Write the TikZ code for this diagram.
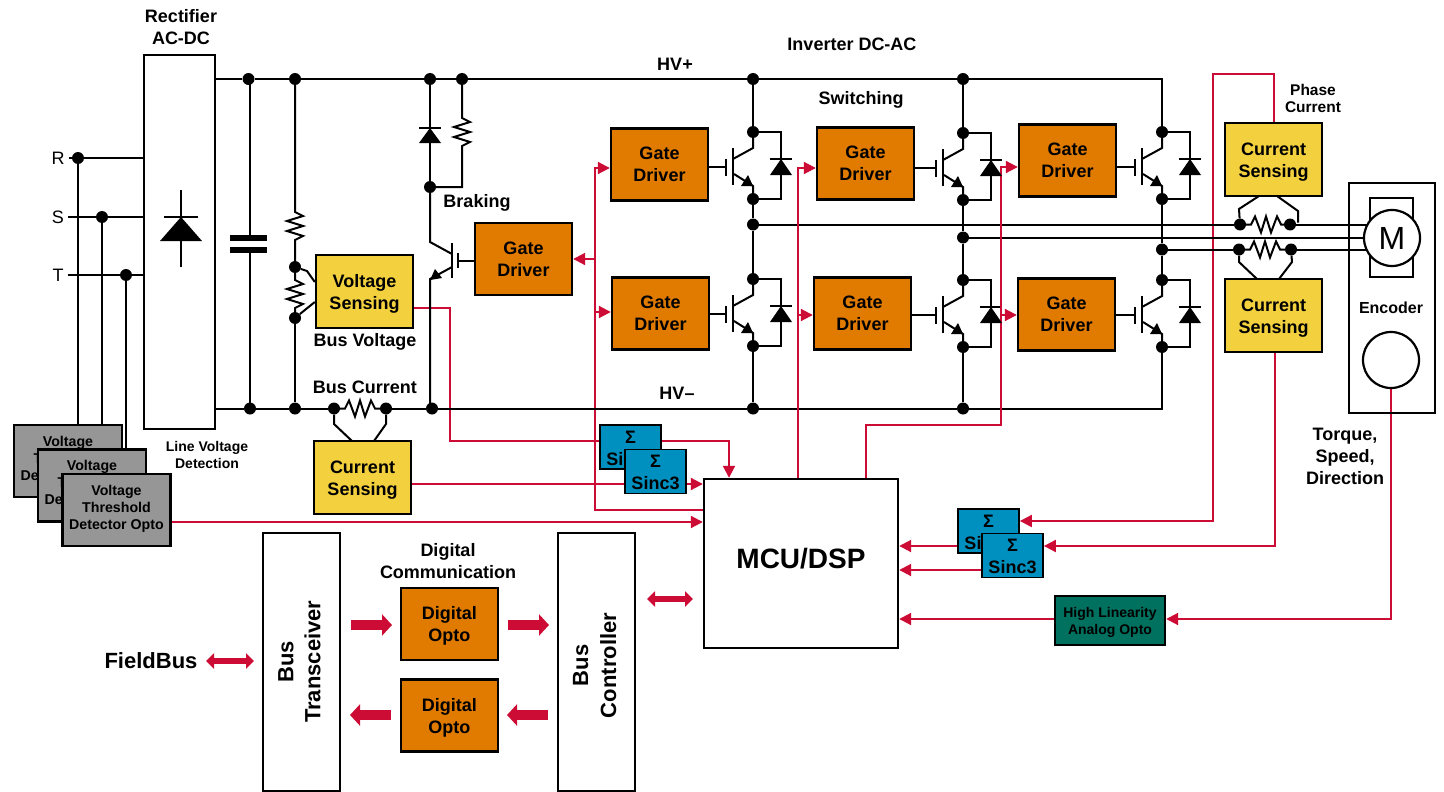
\documentclass[tikz,border=0pt]{standalone}
\usepackage{fontspec}
\setmainfont{Liberation Sans}
\usetikzlibrary{arrows.meta,calc}
\pgfdeclarelayer{paper}\pgfdeclarelayer{redl}\pgfdeclarelayer{blk}\pgfdeclarelayer{redtop}
\pgfsetlayers{paper,redl,blk,redtop,main}
\definecolor{cOrange}{HTML}{E07B00}
\definecolor{cYellow}{HTML}{F3D03E}
\definecolor{cBlue}{HTML}{0090BF}
\definecolor{cTeal}{HTML}{00705F}
\definecolor{cGray}{HTML}{969696}
\definecolor{cRed}{HTML}{CC0C35}
\newcommand{\fsz}[2]{\fontsize{#1}{#2}\selectfont\bfseries}
\newcommand{\tu}{\rule{0pt}{17pt}}
\newcommand{\sg}{\rule{0pt}{15pt}Σ}
\tikzset{
  x=1pt,y=-1pt,
  boxb/.style={draw=black,line width=2.4pt,inner sep=0pt,align=center,font=\fsz{18}{22}},
  gd/.style={boxb,fill=cOrange,minimum width=97pt,minimum height=72pt},
  sense/.style={boxb,fill=cYellow,minimum width=97pt,minimum height=73pt},
  sincb/.style={boxb,fill=cBlue,line width=1.8pt,minimum width=61pt,minimum height=44pt},
  thresh/.style={boxb,fill=cGray,minimum width=108pt,minimum height=72pt,font=\fsz{14.2}{17}},
  whitebox/.style={boxb,fill=white},
  lbl/.style={inner sep=0pt,align=center,font=\fsz{18}{22}},
  dot/.style={circle,fill=black,inner sep=0pt,minimum size=12pt},
  wire/.style={line width=2pt,draw=black},
  redw/.style={line width=2pt,draw=cRed},
  reda/.style={redw,-{Triangle[length=12pt,width=12pt]}},
  fat/.style={line width=10.5pt,draw=cRed,-{Triangle[length=10pt,width=21pt]}},
  fatd/.style={line width=6.5pt,draw=cRed,{Triangle[length=8pt,width=15pt]}-{Triangle[length=8pt,width=15pt]}},
}
\def\hzig{-- ++(4,-8) -- ++(6,16) -- ++(5,-16) -- ++(5,16) -- ++(6,-16) -- ++(4,8)}
\def\vzig{-- ++(8,4) -- ++(-16,5) -- ++(16,5) -- ++(-16,5) -- ++(16,5) -- ++(-8,4)}
\newcommand{\igbt}[3]{%
  \node[dot] (#1-t) at (#2,#3) {};
  \node[dot] (#1-b) at (#2,#3+67) {};
  \coordinate (#1-g) at (#2-27,#3+35);
  \coordinate (#1-d) at (#2+28,#3);
  \coordinate (#1-e) at (#2+28,#3+67);
  \begin{pgfonlayer}{blk}
  \draw[wire] (#1-t) -- ++(0,16) -- ++(-20,11);
  \draw[wire] (#1-b) -- ++(0,-13) -- ++(-19,-12);
  \draw[wire] (#2-20,#3+16) -- (#2-20,#3+53);
  \draw[wire] (#2-27,#3+27) -- (#2-27,#3+44);
  \draw[wire] (#1-t) -- (#1-d) -- (#1-e) -- (#1-b);
  \draw[wire] (#2+17,#3+27) -- (#2+39,#3+27);
  \end{pgfonlayer}
  \fill (#2-12,#3+54) -- (#2,#3+54) -- (#2-5,#3+43) -- cycle;
  \fill (#2+28,#3+27) -- (#2+17,#3+43) -- (#2+39,#3+43) -- cycle;
}
\begin{document}
\begin{tikzpicture}
\begin{pgfonlayer}{paper}
\fill[white] (0,0) rectangle (1444,792);
\end{pgfonlayer}
\useasboundingbox (0,0) rectangle (1444,792);

% ---- boxes
\node[whitebox,minimum width=71pt,minimum height=374pt] (rect) at (179.5,242) {};
\node[gd] (gdb) at (523.5,259) {Gate\\Driver};
\node[gd] (gd1) at (659.5,164.5) {Gate\\Driver};
\node[gd] (gd2) at (660.5,313.5) {Gate\\Driver};
\node[gd] (gd3) at (865.5,163.5) {Gate\\Driver};
\node[gd] (gd4) at (862.5,313.5) {Gate\\Driver};
\node[gd] (gd5) at (1067.5,160.5) {Gate\\Driver};
\node[gd] (gd6) at (1066.5,314.5) {Gate\\Driver};
\node[sense] (vs) at (364.5,291.5) {\tu Voltage\\Sensing};
\node[sense] (csb) at (362.5,477.5) {\tu Current\\Sensing};
\node[sense] (cst) at (1273.5,159.5) {\tu Current\\Sensing};
\node[sense] (csl) at (1273.5,315.5) {\tu Current\\Sensing};
\node[thresh] (v1) at (68,461) {Voltage\\Threshold\\Detector Opto\rule[-6pt]{0pt}{6pt}};
\node[thresh] (v2) at (92,485.5) {Voltage\\Threshold\\Detector Opto\rule[-6pt]{0pt}{6pt}};
\node[thresh] (v3) at (116.5,510) {Voltage\\Threshold\\Detector Opto\rule[-6pt]{0pt}{6pt}};
\node[sincb] (sa) at (630.5,447) {\sg\\Sinc3};
\node[sincb] (sb) at (655.5,471.5) {\sg\\Sinc3};
\node[sincb] (sc) at (988.5,531) {\sg\\Sinc3};
\node[sincb] (sd) at (1012.5,555.5) {\sg\\Sinc3};
\node[boxb,fill=cTeal,minimum width=110pt,minimum height=49pt,font=\fsz{14}{17}] (hl) at (1110,620.5) {\rule{0pt}{14pt}High Linearity\\Analog Opto};
\node[whitebox,minimum width=194pt,minimum height=169pt,font=\fsz{28}{32}] (mcu) at (801,563.5) {MCU/DSP\rule[-10pt]{0pt}{10pt}};
\node[whitebox,minimum width=77pt,minimum height=258pt] (bt) at (301.5,662) {};
\node[whitebox,minimum width=77pt,minimum height=258pt] (bc) at (596.5,662) {};
\node[lbl,rotate=90,font=\fsz{22}{27}] (btt) at (299.5,661.7) {Bus\\Transceiver};
\node[lbl,rotate=90,font=\fsz{22}{28}] (bct) at (594.7,665.5) {Bus\\Controller};
\node[gd] (do1) at (449.3,623.7) {\tu Digital\\Opto};
\node[gd] (do2) at (449.3,715.5) {\tu Digital\\Opto};
\node[boxb,minimum width=86pt,minimum height=230pt] (enc) at (1392,298) {};
\node[boxb,minimum width=43pt,minimum height=79pt] (brk) at (1391.5,237.5) {};
\node[circle,draw=black,fill=white,line width=2.2pt,minimum size=56pt,inner sep=0pt,font=\fontsize{32}{32}\selectfont] (motor) at (1392,238) {M};
\node[circle,draw=black,fill=white,line width=2.2pt,minimum size=56pt,inner sep=0pt] (encc) at (1391,360) {};

% ---- texts
\node[lbl] (tr) at (181,27) {Rectifier\\AC-DC};
\node[lbl,font=\fsz{14}{17}] (tl) at (207,455) {Line Voltage\\Detection};
\node[lbl] (thp) at (675,64) {HV+};
\node[lbl] (thm) at (677,393) {HV–};
\node[lbl] (tinv) at (852,44) {Inverter DC-AC};
\node[lbl] (tsw) at (861,100) {Switching};
\node[lbl] (tbr) at (477,203) {Braking};
\node[lbl] (tbv) at (365,342) {Bus Voltage};
\node[lbl] (tbc) at (365,387) {Bus Current};
\node[lbl,font=\fsz{15.5}{17}] (tpc) at (1313,98) {Phase\\Current};
\node[lbl,font=\fsz{16}{18}] (ten) at (1391,308) {Encoder};
\node[lbl] (ttq) at (1345,456) {Torque,\\Speed,\\Direction};
\node[lbl] (tdc) at (448,561) {Digital\\Communication};
\node[lbl,font=\fsz{22}{26}] (tfb) at (151,661) {FieldBus};
\node[lbl,font=\fontsize{18}{22}\selectfont] (lr) at (58,158) {R};
\node[lbl,font=\fontsize{18}{22}\selectfont] (ls) at (58,217) {S};
\node[lbl,font=\fontsize{18}{22}\selectfont] (lt) at (58,275) {T};

% ---- junction dots
\node[dot] (dr) at (78,158) {};
\node[dot] (ds) at (102,217) {};
\node[dot] (dt) at (126,275) {};
\node[dot] (t1) at (248.5,79) {};
\node[dot] (t2) at (295,79) {};
\node[dot] (t3) at (430,79) {};
\node[dot] (t4) at (462,79) {};
\node[dot] (t5) at (753,79) {};
\node[dot] (t6) at (963,79) {};
\node[dot] (b1) at (250,408.5) {};
\node[dot] (b2) at (295,408.5) {};
\node[dot] (b3) at (334,408.5) {};
\node[dot] (b4) at (386,408.5) {};
\node[dot] (b5) at (432,408.5) {};
\node[dot] (b6) at (753,408.5) {};
\node[dot] (b7) at (963,408.5) {};
\node[dot] (r1) at (295,267) {};
\node[dot] (r2) at (295,318) {};
\node[dot] (jb) at (430,187) {};
\node[dot] (n1) at (753,224.5) {};
\node[dot] (n2) at (963,237.5) {};
\node[dot] (n3) at (1162,249.5) {};
\node[dot] (s1) at (1240,224.5) {};
\node[dot] (s2) at (1290,224.5) {};
\node[dot] (s3) at (1239,249.5) {};
\node[dot] (s4) at (1291,249.5) {};

% ---- IGBT legs
\igbt{q1}{753}{132}
\igbt{q4}{753}{279}
\igbt{q2}{963}{133}
\igbt{q5}{963}{280}
\igbt{q3}{1162}{132}
\igbt{q6}{1162}{280}

% ---- rectifier diode, capacitor, brake symbols
\draw[wire] (181,190) -- (181,267);
\draw[wire] (164,216.5) -- (198,216.5);
\fill (181,217) -- (160,241) -- (202,241) -- cycle;
\fill (419,143) -- (441,143) -- (430,128) -- cycle;
\fill (430,280) -- (442,278) -- (435,269) -- cycle;
\coordinate (cpt) at (249.5,238);
\coordinate (cpb) at (249.5,250);
\fill (230,235) rectangle (267,241);
\fill (230,247) rectangle (267,253);

% ---- black wires
\begin{pgfonlayer}{blk}
\draw[wire] (rect.east |- t1) -- (t1) -- (t2) -- (t3) -- (t4) -- (t5) -- (t6) -- (1162,79) -- (q3-t);
\draw[wire] (rect.east |- b1) -- (b1) -- (b2) -- (b3);
\draw[wire] (b4) -- (b5) -- (b6) -- (b7) -- (1162,408.5) -- (q6-b);
\draw[wire] (dr) -- (rect.west |- dr);
\draw[wire] (ds) -- (rect.west |- ds);
\draw[wire] (dt) -- (rect.west |- dt);
\draw[wire] (lr.east) ++(4,0) -- (dr);
\draw[wire] (ls.east) ++(4,0) -- (ds);
\draw[wire] (lt.east) ++(4,0) -- (dt);
\draw[wire] (dr) -- (dr |- v1.north);
\draw[wire] (ds) -- (ds |- v1.north);
\draw[wire] (dt) -- (dt |- v2.north);
\draw[wire] (cpt |- t1) -- (cpt);
\draw[wire] (cpb) -- (cpb |- b1);
\draw[wire] (t2) -- (295,212) \vzig -- (r1);
\draw[wire] (r1) -- (295,280) \vzig -- (r2);
\draw[wire] (r2) -- (b2);
\draw[wire] (r1) -- (307,271) -- (vs.west |- 0,282);
\draw[wire] (r2) -- (vs.west |- 0,302);
\draw[wire] (t3) -- (jb);
\draw[wire] (419,128) -- (441,128);
\draw[wire] (t4) -- (462,118) \vzig -- (462,187) -- (jb);
\draw[wire] (jb) -- (430,242) -- (452,254);
\draw[wire] (452,243) -- (452,278);
\draw[wire] (457.5,253) -- (457.5,268);
\draw[wire] (457.5,261) -- (gdb.west |- 0,261);
\draw[wire] (452,267) -- (430,279) -- (430,408.5);
\draw[wire] (b3) -- (345,408.5) \hzig -- (b4);
\draw[wire] (b3) -- (334,424) -- (352,441);
\draw[wire] (b4) -- (386,424) -- (374,441);
\draw[wire] (t5) -- (q1-t);
\draw[wire] (q1-b) -- (n1) -- (q4-t);
\draw[wire] (q4-b) -- (b6);
\draw[wire] (t6) -- (q2-t);
\draw[wire] (q2-b) -- (n2) -- (q5-t);
\draw[wire] (q5-b) -- (b7);
\draw[wire] (q3-b) -- (n3) -- (q6-t);
\draw[wire] (gd1.east |- q1-g) -- (q1-g);
\draw[wire] (gd2.east |- q4-g) -- (q4-g);
\draw[wire] (gd3.east |- q2-g) -- (q2-g);
\draw[wire] (gd4.east |- q5-g) -- (q5-g);
\draw[wire] (gd5.east |- q3-g) -- (q3-g);
\draw[wire] (gd6.east |- q6-g) -- (q6-g);
\draw[wire] (n1) -- (s1);
\draw[wire] (s2) -- (motor.center |- s2);
\draw[wire] (n2) -- (motor.center |- n2);
\draw[wire] (n3) -- (s3);
\draw[wire] (s4) -- (motor.center |- s4);
\draw[wire] (s1) -- (1251,224.5) \hzig -- (s2);
\draw[wire] (s3) -- (1250,249.5) \hzig -- (s4);
\draw[wire] (s1) -- (1239,209) -- (1259,196);
\draw[wire] (s2) ++(8,-2) -- (1298,211) -- (1277,196);
\draw[wire] (s3) -- (1239,262) -- (1257,279);
\draw[wire] (s4) -- (1292,262) -- (1279,279);
\end{pgfonlayer}

% ---- red wires
\begin{pgfonlayer}{redl}
\coordinate (a1) at (450,308);
\coordinate (a2) at (450,441);
\draw[redw] (vs.east |- a1) -- (a1) -- (a2) -- (sa.west |- a2);
\coordinate (a3) at (729,441);
\draw[reda] (sa.east |- a3) -- (a3) -- (a3 |- mcu.north);
\coordinate (a4) at (500,484);
\draw[redw] (csb.east |- a4) -- (sb.west |- a4);
\draw[reda] (sb.east |- a4) -- (mcu.west |- a4);
\coordinate (a5) at (500,522);
\draw[reda] (v3.east |- a5) -- (mcu.west |- a5);
\coordinate (g1) at (595,168);
\coordinate (g2) at (595,259);
\coordinate (g3) at (595,312);
\coordinate (g4) at (595,510);
\draw[reda] (mcu.west |- g4) -- (g4) -- (g1) -- (gd1.west |- g1);
\draw[reda] (g2) -- (gdb.east |- g2);
\draw[reda] (g3) -- (gd2.west |- g3);
\coordinate (c1) at (1274,74);
\coordinate (c2) at (1213,74);
\coordinate (c3) at (1213,521);
\draw[reda] (c1 |- cst.north) -- (c1) -- (c2) -- (c3) -- (sc.east |- c3);
\coordinate (c4) at (1275,546);
\draw[reda] (c4 |- csl.south) -- (c4) -- (sd.east |- c4);
\draw[reda] (sc.west |- c4) -- (mcu.east |- c4);
\coordinate (c5) at (1000,570);
\draw[reda] (sd.west |- c5) -- (mcu.east |- c5);
\coordinate (e1) at (1391,619);
\draw[reda] (encc.south) -- (e1) -- (hl.east |- e1);
\draw[reda] (hl.west |- e1) -- (mcu.east |- e1);
\end{pgfonlayer}
\begin{pgfonlayer}{redtop}
\coordinate (h1) at (798,168);
\coordinate (h2) at (798,315);
\draw[reda] (h1 |- mcu.north) -- (h1) -- (gd3.west |- h1);
\draw[reda] (h2) -- (gd4.west |- h2);
\coordinate (k1) at (866,425);
\coordinate (k2) at (1001,425);
\coordinate (k3) at (1001,167);
\coordinate (k4) at (1001,315);
\draw[reda] (k1 |- mcu.north) -- (k1) -- (k2) -- (k3) -- (gd5.west |- k3);
\draw[reda] (k4) -- (gd6.west |- k4);
\end{pgfonlayer}

% ---- fat arrows
\coordinate (f1) at (351,625); \coordinate (f2) at (392,625);
\coordinate (f3) at (508,625); \coordinate (f4) at (549,625);
\coordinate (f5) at (391,715); \coordinate (f6) at (350,715);
\coordinate (f7) at (548,715); \coordinate (f8) at (507,715);
\coordinate (f9) at (647,599); \coordinate (f10) at (693,599);
\coordinate (f11) at (206,661); \coordinate (f12) at (254,661);
\draw[fat] (f1) -- (f2);
\draw[fat] (f3) -- (f4);
\draw[fat] (f5) -- (f6);
\draw[fat] (f7) -- (f8);
\draw[fatd] (f9) -- (f10);
\draw[fatd] (f11) -- (f12);
\end{tikzpicture}
\end{document}
